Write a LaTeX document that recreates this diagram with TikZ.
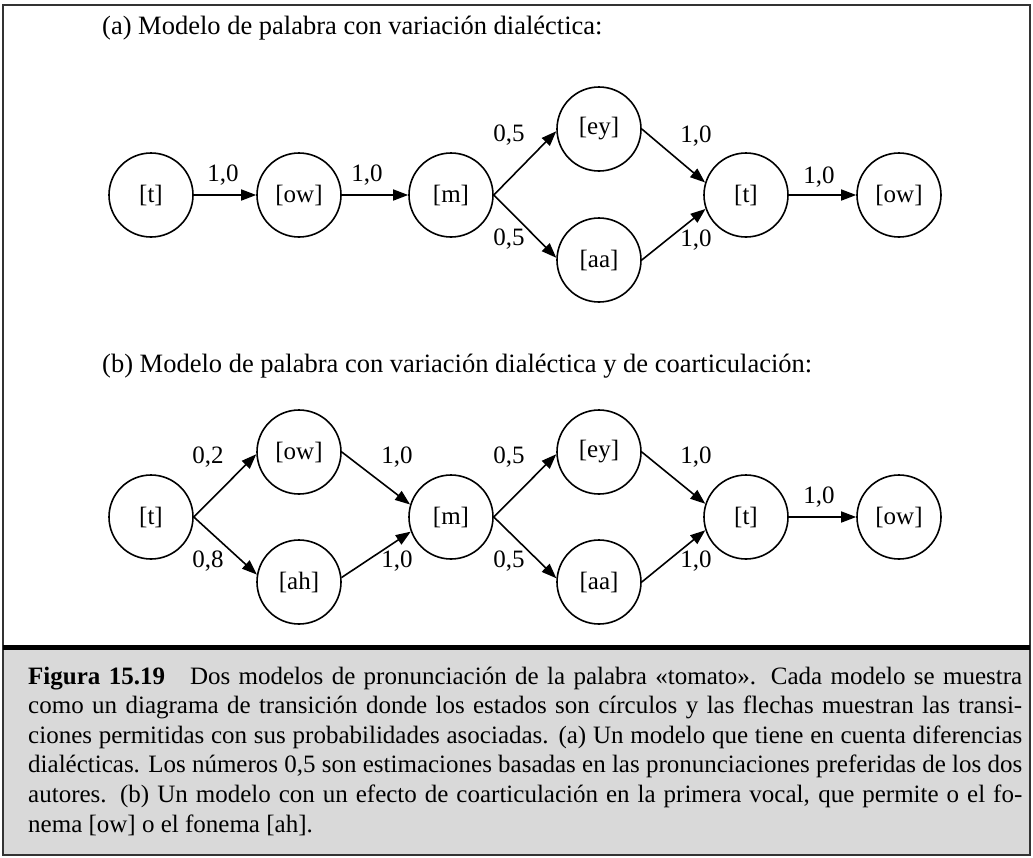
\documentclass[tikz,border=0pt]{standalone}
\usepackage{fontspec}
\setmainfont{Liberation Serif}
\usetikzlibrary{arrows.meta}
\begin{document}
\begin{tikzpicture}[x=1pt,y=-1pt,
  st/.style={circle, draw, line width=1.6pt, minimum size=84pt, inner sep=0pt, font=\fontsize{25}{30}\selectfont},
  ed/.style={line width=1.6pt, -{Triangle[length=15pt,width=11pt]}},
  lb/.style={font=\fontsize{25}{30}\selectfont, inner sep=0pt},
  ttl/.style={font=\fontsize{26.5}{32}\selectfont, inner sep=0pt, anchor=base west},
  captxt/.style={font=\fontsize{25}{30}\selectfont, inner sep=0pt, anchor=base west},
]
\useasboundingbox (0,0) rectangle (1033,857);
\fill[black!15] (3,647) rectangle (1030,855);
\draw[line width=1.5pt, black!80] (3,5) rectangle (1030,855);
\draw[line width=4.5pt] (3,647.5) -- (1030,647.5);

% titles
\node[ttl] (ta) at (102,34) {(a) Modelo de palabra con variación dialéctica:};
\node[ttl] (tb) at (102,372) {(b) Modelo de palabra con variación dialéctica y de coarticulación:};

% row (a)
\node[st] (a1) at (151,195) {[t]};
\node[st] (a2) at (299,195) {[ow]};
\node[st] (a3) at (451,195) {[m]};
\node[st] (a4) at (599,129) {[ey]};
\node[st] (a5) at (599,260) {[aa]};
\node[st] (a6) at (746,195) {[t]};
\node[st] (a7) at (899,195) {[ow]};
\draw[ed] (a1.east) -- (a2.west);
\draw[ed] (a2.east) -- (a3.west);
\draw[ed] (a3.east) -- (a4.183);
\draw[ed] (a3.east) -- (a5.177);
\draw[ed] (a4.east) -- (a6.163);
\draw[ed] (a5.east) -- (a6.199);
\draw[ed] (a6.east) -- (a7.west);
\node[lb] (la1) at (223,175) {1,0};
\node[lb] (la2) at (367,175) {1,0};
\node[lb] (la3) at (509,135) {0,5};
\node[lb] (la4) at (509,239) {0,5};
\node[lb] (la5) at (696,136) {1,0};
\node[lb] (la6) at (696,240) {1,0};
\node[lb] (la7) at (819,177) {1,0};

% row (b)
\node[st] (b1) at (151,517) {[t]};
\node[st] (b2) at (299,452) {[ow]};
\node[st] (b3) at (299,582) {[ah]};
\node[st] (b4) at (451,517) {[m]};
\node[st] (b5) at (599,452) {[ey]};
\node[st] (b6) at (599,582) {[aa]};
\node[st] (b7) at (746,517) {[t]};
\node[st] (b8) at (899,517) {[ow]};
\draw[ed] (b1.east) -- (b2.183);
\draw[ed] (b1.east) -- (b3.170);
\draw[ed] (b2.east) -- (b4.163);
\draw[ed] (b3.6) -- (b4.200);
\draw[ed] (b4.east) -- (b5.183);
\draw[ed] (b4.east) -- (b6.175);
\draw[ed] (b5.east) -- (b7.162);
\draw[ed] (b6.east) -- (b7.198);
\draw[ed] (b7.east) -- (b8.west);
\node[lb] (lb1) at (208,457) {0,2};
\node[lb] (lb2) at (208,561) {0,8};
\node[lb] (lb3) at (397,457) {1,0};
\node[lb] (lb4) at (397,561) {1,0};
\node[lb] (lb5) at (509,457) {0,5};
\node[lb] (lb6) at (509,561) {0,5};
\node[lb] (lb7) at (696,457) {1,0};
\node[lb] (lb8) at (696,561) {1,0};
\node[lb] (lb9) at (819,497) {1,0};

% caption
\node[captxt] (c1) at (28,684) {\makebox[994pt][s]{\textbf{Figura 15.19}\quad Dos modelos de pronunciación de la palabra «tomato». Cada modelo se muestra}};
\node[captxt] (c2) at (28,713.6) {\makebox[994pt][s]{como un diagrama de transición donde los estados son círculos y las flechas muestran las transi-}};
\node[captxt] (c3) at (28,743.2) {\makebox[994pt][s]{ciones permitidas con sus probabilidades asociadas. (a) Un modelo que tiene en cuenta diferencias}};
\node[captxt] (c4) at (28,772.8) {\makebox[994pt][s]{dialécticas. Los números 0,5 son estimaciones basadas en las pronunciaciones preferidas de los dos}};
\node[captxt] (c5) at (28,802.4) {\makebox[994pt][s]{autores. (b) Un modelo con un efecto de coarticulación en la primera vocal, que permite o el fo-}};
\node[captxt] (c6) at (28,832) {nema [ow] o el fonema [ah].};
\end{tikzpicture}
\end{document}
